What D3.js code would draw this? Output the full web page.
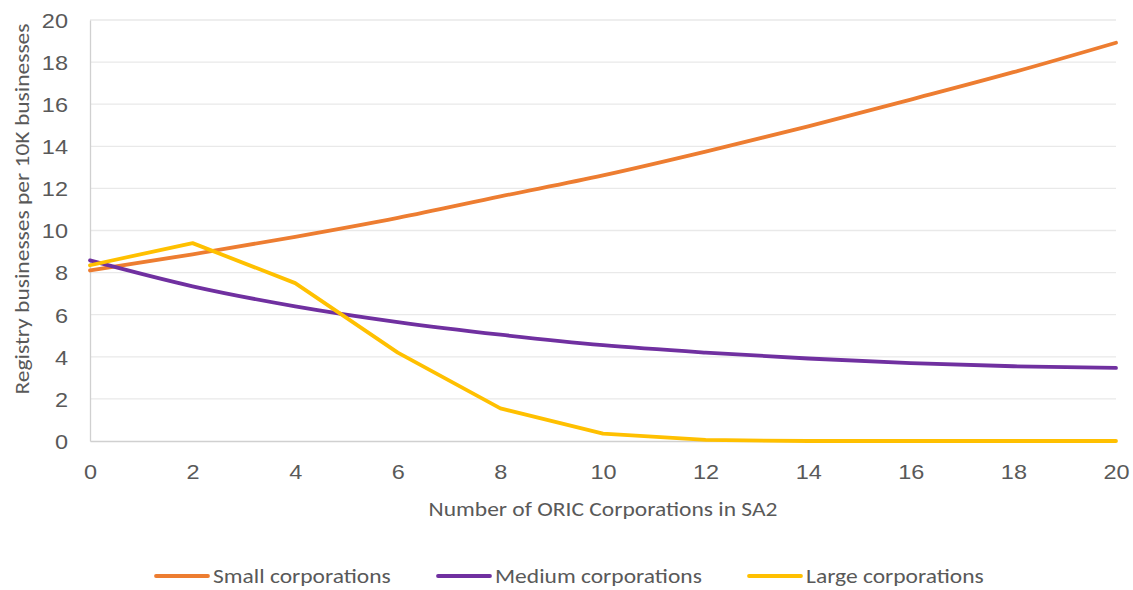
<!DOCTYPE html>
<html>
<head>
<meta charset="utf-8">
<script src="https://cdn.jsdelivr.net/npm/d3@7"></script>
<style>
  html, body { margin: 0; padding: 0; background: #fff; }
  svg { display: block; font-family: "Carlito", "Liberation Sans Narrow", "Open Sans", sans-serif; }
</style>
</head>
<body>
<svg id="chart" width="1133" height="590"></svg>
<script>
const xValues = [0, 2, 4, 6, 8, 10, 12, 14, 16, 18, 20];
const smallCorporations  = [8.1, 8.87, 9.7, 10.6, 11.62, 12.62, 13.75, 14.95, 16.22, 17.52, 18.92];
const mediumCorporations = [8.58, 7.35, 6.4, 5.65, 5.05, 4.55, 4.2, 3.92, 3.7, 3.55, 3.47];
const largeCorporations  = [8.35, 9.4, 7.5, 4.2, 1.55, 0.35, 0.05, 0.0, 0.0, 0.0, 0.0];
const yTicks = [0, 2, 4, 6, 8, 10, 12, 14, 16, 18, 20];
const xTicks = [0, 2, 4, 6, 8, 10, 12, 14, 16, 18, 20];
const seriesNames = ["Small corporations", "Medium corporations", "Large corporations"];
const seriesColors = ["#ED7D31", "#7030A0", "#FFC000"];
const xTitle = "Number of ORIC Corporations in SA2";
const yTitle = "Registry businesses per 10K businesses";

const svg = d3.select("#chart");
const W = 1133, H = 590;
const margin = { left: 90, right: W - 1116, top: 20, bottom: H - 441 };
const x = d3.scaleLinear().domain([0, 20]).range([margin.left, W - margin.right]);
const y = d3.scaleLinear().domain([0, 20]).range([H - margin.bottom, margin.top]);
const textColor = "#595959";
const fs = "21px";
const sx = 1.12;

// gridlines
svg.append("g").selectAll("line").data(yTicks.filter(d => d > 0)).join("line")
  .attr("x1", x(0)).attr("x2", x(20))
  .attr("y1", d => y(d)).attr("y2", d => y(d))
  .attr("stroke", "#e9e9e9").attr("stroke-width", 1.3);

// y axis
const yAxis = svg.append("g").attr("transform", `translate(${x(0)},0)`)
  .call(d3.axisLeft(y).tickValues(yTicks).tickSize(0).tickFormat(d3.format("d")));
yAxis.select(".domain").attr("stroke", "#d0d0d0").attr("stroke-width", 1.3);
yAxis.selectAll(".tick text").attr("fill", textColor).style("font-size", fs)
  .attr("x", 0).attr("dy", "0.35em").attr("transform", `translate(-22,0) scale(${sx},1)`);

// x axis
const xAxis = svg.append("g").attr("transform", `translate(0,${y(0)})`)
  .call(d3.axisBottom(x).tickValues(xTicks).tickSize(0).tickFormat(d3.format("d")));
xAxis.select(".domain").attr("stroke", "#d0d0d0").attr("stroke-width", 1.3);
xAxis.selectAll(".tick text").attr("fill", textColor).style("font-size", fs)
  .attr("y", 0).attr("dy", 0).attr("transform", `translate(0,38) scale(${sx},1)`);

// titles
svg.append("text").attr("transform", `translate(${(x(0) + x(20)) / 2},516) scale(${sx},1)`)
  .attr("text-anchor", "middle").attr("fill", textColor).style("font-size", fs).text(xTitle);
svg.append("text").attr("transform", `translate(29,209) rotate(-90) scale(${sx},1)`)
  .attr("text-anchor", "middle").attr("fill", textColor).style("font-size", fs).text(yTitle);

// lines
const data = [smallCorporations, mediumCorporations, largeCorporations];
const smooth = d3.line().x((d, i) => x(xValues[i])).y(d => y(d)).curve(d3.curveMonotoneX);
const straight = d3.line().x((d, i) => x(xValues[i])).y(d => y(d));
svg.append("g").selectAll("path").data(data).join("path")
  .attr("d", (d, i) => i === 2 ? straight(d) : smooth(d))
  .attr("fill", "none")
  .attr("stroke", (d, i) => seriesColors[i])
  .attr("stroke-width", 3.8)
  .attr("stroke-linecap", "round")
  .attr("stroke-linejoin", "round");

// legend
const legendX = [156, 438, 749];
const lg = svg.append("g").selectAll("g").data(seriesNames).join("g")
  .attr("transform", (d, i) => `translate(${legendX[i]},576)`);
lg.append("line").attr("x1", 0).attr("x2", 52).attr("y1", 0).attr("y2", 0)
  .attr("stroke", (d, i) => seriesColors[i]).attr("stroke-width", 3.8).attr("stroke-linecap", "round");
lg.append("text").attr("transform", `translate(57,0) scale(${sx},1)`).attr("dy", "0.35em")
  .attr("fill", textColor).style("font-size", fs).text(d => d);
</script>
</body>
</html>
